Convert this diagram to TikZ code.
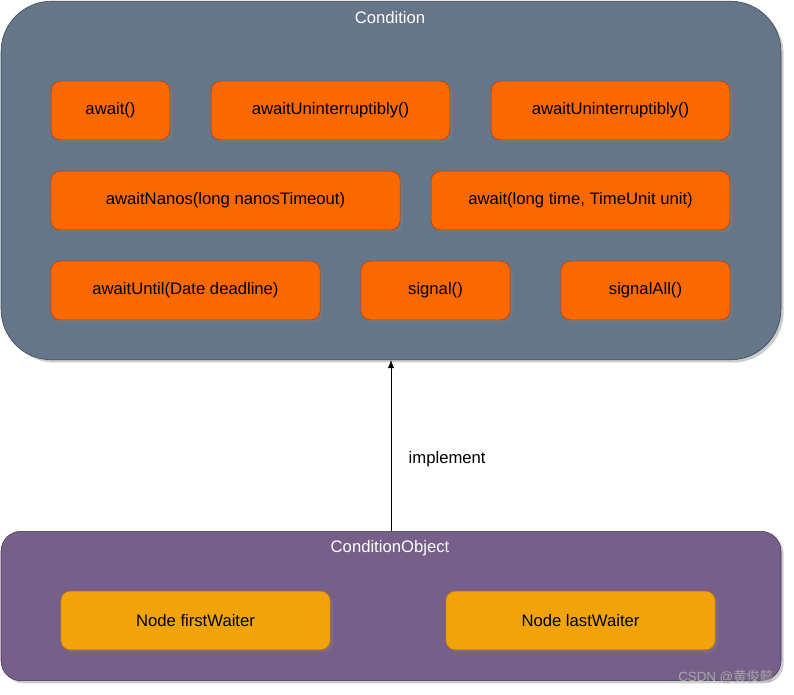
\documentclass[tikz,border=0pt]{standalone}
\usepackage{fontspec}
\setmainfont{Liberation Sans}
\newfontfamily\cjk{Noto Sans CJK SC}
\usetikzlibrary{shadows,arrows.meta}
\definecolor{condfill}{HTML}{647687}
\definecolor{conddraw}{HTML}{314354}
\definecolor{objfill}{HTML}{76608A}
\definecolor{objdraw}{HTML}{432D57}
\definecolor{methfill}{HTML}{FA6800}
\definecolor{methdraw}{HTML}{C73500}
\definecolor{waitfill}{HTML}{F0A30A}
\definecolor{waitdraw}{HTML}{BD7000}
\begin{document}
\begin{tikzpicture}[x=0.75pt, y=-0.75pt,
    shade/.style={drop shadow={shadow xshift=2pt, shadow yshift=-2pt, opacity=0.4}},
    method/.style={rectangle, rounded corners=7pt, draw=methdraw, fill=methfill, shade, minimum height=44pt, inner sep=0pt, font=\fontsize{12.5}{14}\selectfont},
    waiter/.style={rectangle, rounded corners=7pt, draw=waitdraw, fill=waitfill, shade, minimum height=44pt, minimum width=202pt, inner sep=0pt, font=\fontsize{12.5}{14}\selectfont},
    title/.style={text=white, font=\fontsize{12.5}{14}\selectfont}]
    \useasboundingbox (0,0) rectangle (794,695);

    % the interface
    \draw (391,180.5) node[rectangle, rounded corners=38pt, draw=conddraw, fill=condfill, shade, minimum width=585pt, minimum height=269pt] (cond) {};
    \node[title] at (390,18) (condtitle) {Condition};

    \draw (110.5,110.5) node[method, minimum width=89pt] (await) {await()};
    \draw (330.5,110.5) node[method, minimum width=179pt] (uninter) {awaitUninterruptibly()};
    \draw (610.5,110.5) node[method, minimum width=179pt] (uninterb) {awaitUninterruptibly()};
    \draw (225.5,200.5) node[method, minimum width=262pt] (nanos) {awaitNanos(long nanosTimeout)};
    \draw (580.5,200.5) node[method, minimum width=224pt] (awaittime) {await(long time, TimeUnit unit)};
    \draw (185.5,290.5) node[method, minimum width=202pt] (until) {awaitUntil(Date deadline)};
    \draw (435.5,290.5) node[method, minimum width=112pt] (signal) {signal()};
    \draw (645.5,290.5) node[method, minimum width=127pt] (signalall) {signalAll()};

    % the implementation
    \draw (391,606) node[rectangle, rounded corners=15pt, draw=objdraw, fill=objfill, shade, minimum width=585pt, minimum height=112pt] (cobj) {};
    \node[title] at (390,548) (cobjtitle) {ConditionObject};

    \draw (195.5,620.5) node[waiter] (first) {Node firstWaiter};
    \draw (580.5,620.5) node[waiter] (last) {Node lastWaiter};

    \draw [-{Latex[length=6pt,width=4.5pt]}] (cobj.north -| cond.south) to (cond.south);
    \node[anchor=west, font=\fontsize{12.5}{14}\selectfont] at (404,459) (impl) {implement};

    \node[anchor=east, text=gray!70, font=\fontsize{10}{12}\selectfont] at (778,677) (mark) {CSDN @{\cjk 黄俊懿}};
\end{tikzpicture}
\end{document}
